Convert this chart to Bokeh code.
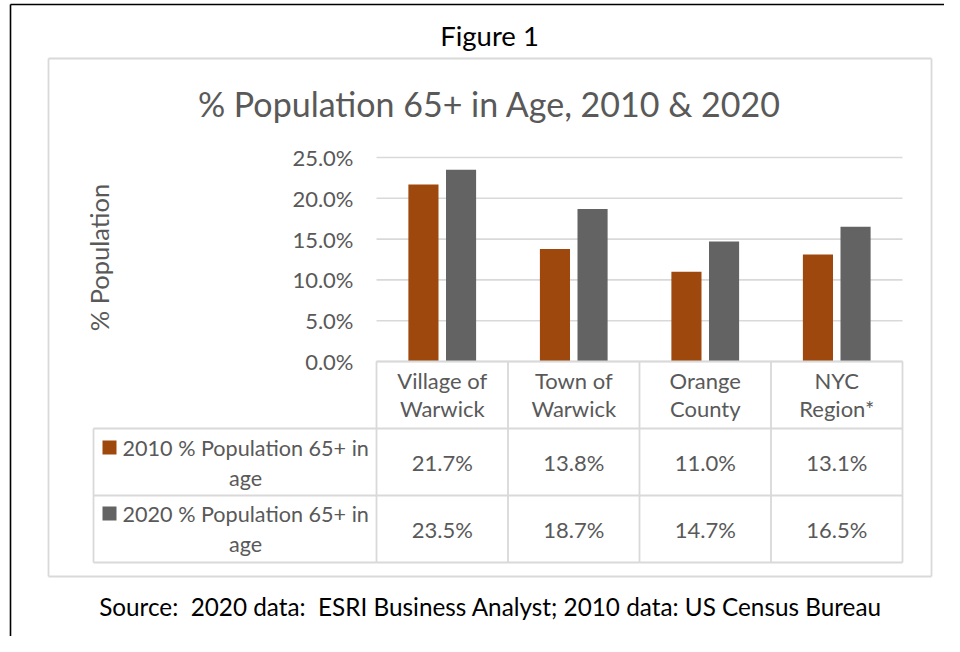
from bokeh.plotting import figure
from bokeh.models import Range1d, ColumnDataSource
from bokeh.transform import dodge
from bokeh.core.properties import value
from bokeh.embed import file_html
from bokeh.resources import INLINE

# ---------------- data ----------------
categories = ["Village of Warwick", "Town of Warwick", "Orange County", "NYC Region*"]
cat_line1 = ["Village of", "Town of", "Orange", "NYC"]
cat_line2 = ["Warwick", "Warwick", "County", "Region*"]
pct_2010 = [21.7, 13.8, 11.0, 13.1]
pct_2020 = [23.5, 18.7, 14.7, 16.5]
series_names = ["2010 % Population 65+ in age", "2020 % Population 65+ in age"]
y_ticks = [0, 5, 10, 15, 20, 25]
y_tick_labels = [f"{t:.1f}%" for t in y_ticks]
chart_title = "% Population 65+ in Age, 2010 & 2020"
y_title = "% Population"
fig_caption = "Figure 1"
source_note = "Source:  2020 data:  ESRI Business Analyst; 2010 data: US Census Bureau"

# ---------------- style / layout ----------------
C2010 = "#9E480E"
C2020 = "#636363"
GRID = "#d9d9d9"
TXT = "#595959"
FONT = "Lato"

W, H = 944, 636
PL, PR, PT, PB = 376, 902, 157, 361      # plot area in page pixels
YMAX = 25.0
n = len(categories)
px_cat = (PR - PL) / n
px_pct = (PB - PT) / YMAX

# page-pixel canvas (y downwards) for decorations
p = figure(width=W, height=H, x_range=Range1d(0, W), y_range=Range1d(H, 0),
           x_axis_location=None, y_axis_location=None,
           output_backend="svg", toolbar_location=None, min_border=0)
p.outline_line_color = None
p.background_fill_color = "white"
p.border_fill_color = "white"
p.grid.visible = False
# chart scales mapped onto the plot area
p.extra_x_ranges = {"cat": Range1d(-PL / px_cat, (W - PL) / px_cat)}
p.extra_y_ranges = {"pct": Range1d(-(H - PB) / px_pct, PB / px_pct)}

pos = [i + 0.5 for i in range(n)]
src = ColumnDataSource(dict(pos=pos, cat=categories, v2010=pct_2010, v2020=pct_2020,
                            l1=cat_line1, l2=cat_line2,
                            t2010=[f"{v:.1f}%" for v in pct_2010],
                            t2020=[f"{v:.1f}%" for v in pct_2020]))

# gridlines
p.segment(x0=0, x1=n, y0=y_ticks, y1=y_ticks, x_range_name="cat", y_range_name="pct",
          line_color=GRID, line_width=1.6)
# tick labels
p.text(x=PL - 23, y=y_ticks, text=y_tick_labels, y_range_name="pct",
       text_font=value(FONT), text_font_size="22px", text_color=TXT,
       text_align="right", text_baseline="middle")

# bars
p.vbar(x=dodge("pos", -0.143), top="v2010", width=0.229, source=src,
       x_range_name="cat", y_range_name="pct", fill_color=C2010, line_color=None)
p.vbar(x=dodge("pos", 0.143), top="v2020", width=0.229, source=src,
       x_range_name="cat", y_range_name="pct", fill_color=C2020, line_color=None)

def lines(xs0, ys0, xs1, ys1, color=GRID, w=1.8):
    p.segment(x0=xs0, y0=ys0, x1=xs1, y1=ys1, line_color=color, line_width=w)

# document border (black)
lines([10, 10], [4, 4], [W, 10], [4, H], "black", 1.6)

# chart box
lines([48, 48, 48, 931], [58, 576, 58, 58], [931, 931, 48, 931], [58, 576, 576, 576])

# data table grid
row_y = [428, 495, 562]
lines([PL] + [93] * 3, [PB] + row_y, [PR] * 4, [PB] + row_y)
lines([93], [428], [93], [562])
p.segment(x0=list(range(n + 1)), x1=list(range(n + 1)), y0=PB, y1=562,
          x_range_name="cat", line_color=GRID, line_width=1.8)

# header + values, placed on the category scale
for field, Y in (("l1", 380), ("l2", 408), ("t2010", 462), ("t2020", 529)):
    p.text(x="pos", y=Y, text=field, source=src, x_range_name="cat",
           text_font=value(FONT), text_font_size="22px", text_color=TXT,
           text_align="center", text_baseline="middle")

def text(X, Y, s, size, color=TXT, align="center", angle=0.0):
    s = s.replace("  ", " \u00a0")  # keep double spaces visible in SVG
    p.text(x=[X], y=[Y], text=[s], text_font=value(FONT), text_font_size=f"{size}px",
           text_color=color, text_align=align, text_baseline="middle", angle=angle)

# legend cells
for name, color, Y in ((series_names[0], C2010, 447), (series_names[1], C2020, 513)):
    first, last = name.rsplit(" ", 1)
    p.quad(left=[102], right=[116], top=[Y - 7], bottom=[Y + 7], fill_color=color,
           line_color=None)
    text(122, Y, first, 21.6, align="left")
    text(245, Y + 30, last, 21.6)

# titles and captions
text(489, 103, chart_title, 34)
text(98, 257, y_title, 25.5, angle=1.5707963)
text(489, 35, fig_caption, 27.5, color="black")
text(490, 606, source_note, 24.3, color="black")

open("out.html", "w").write(file_html(p, INLINE))
